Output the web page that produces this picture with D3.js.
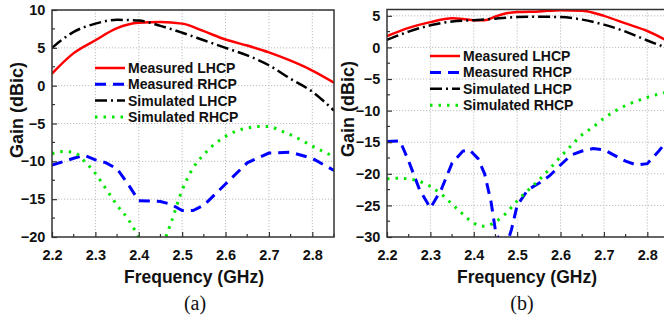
<!DOCTYPE html>
<html>
<head>
<meta charset="utf-8">
<script src="https://cdn.jsdelivr.net/npm/d3@7"></script>
<style>
  body { margin: 0; background: #fff; }
  svg { display: block; }
</style>
</head>
<body>
<div id="chart"></div>
<script>
// ---- data ----
// panel (a)
const freqLhcpA = [2.2, 2.25, 2.3, 2.35, 2.4, 2.45, 2.5, 2.55, 2.6, 2.65, 2.7, 2.75, 2.8, 2.85];
const measLhcpA = [1.6, 4.3, 6.0, 7.6, 8.3, 8.4, 8.2, 7.2, 6.1, 5.3, 4.4, 3.3, 2.0, 0.4];
const simLhcpA  = [5.0, 7.1, 8.2, 8.7, 8.6, 7.9, 7.0, 6.0, 5.0, 4.0, 2.7, 0.9, -0.8, -3.3];

const freqMeasRhcpA = [2.2, 2.25, 2.275, 2.3, 2.325, 2.35, 2.375, 2.4, 2.45, 2.475, 2.5, 2.525, 2.55, 2.6, 2.65, 2.7, 2.75, 2.8, 2.85];
const measRhcpA     = [-10.5, -9.6, -9.2, -9.8, -10.2, -11.0, -13.0, -15.2, -15.3, -15.7, -16.5, -16.5, -15.8, -13.0, -10.2, -8.9, -8.8, -9.6, -11.2];

const freqSimRhcpA = [2.2, 2.225, 2.25, 2.275, 2.3, 2.325, 2.35, 2.375, 2.4, 2.425, 2.45, 2.475, 2.5, 2.525, 2.55, 2.575, 2.6, 2.625, 2.65, 2.675, 2.7, 2.725, 2.75, 2.775, 2.8, 2.825, 2.85];
const simRhcpA     = [-9.0, -8.7, -8.8, -10.0, -11.6, -13.7, -15.8, -17.6, -20.0, -22.5, -21.5, -18.0, -13.8, -10.9, -9.1, -7.7, -6.7, -6.0, -5.6, -5.4, -5.4, -5.9, -6.5, -7.2, -8.0, -8.7, -9.4];

// panel (b)
const freqMeasLhcpB = [2.2, 2.25, 2.3, 2.35, 2.375, 2.4, 2.425, 2.45, 2.475, 2.5, 2.55, 2.6, 2.65, 2.675, 2.7, 2.75, 2.8, 2.85];
const measLhcpB     = [1.8, 3.1, 4.0, 4.6, 4.5, 4.3, 4.3, 4.9, 5.4, 5.6, 5.7, 5.9, 5.8, 5.5, 5.0, 3.8, 2.6, 0.9];

const freqSimLhcpB = [2.2, 2.25, 2.3, 2.35, 2.4, 2.45, 2.5, 2.55, 2.6, 2.65, 2.7, 2.75, 2.8, 2.85];
const simLhcpB     = [1.2, 2.5, 3.5, 4.1, 4.3, 4.55, 4.8, 4.85, 4.8, 4.4, 3.6, 2.5, 1.1, -0.2];

const freqMeasRhcpB = [2.2, 2.23, 2.25, 2.275, 2.3, 2.325, 2.35, 2.375, 2.39, 2.41, 2.425, 2.44, 2.45, 2.47, 2.487, 2.5, 2.525, 2.55, 2.575, 2.6, 2.625, 2.65, 2.675, 2.7, 2.75, 2.775, 2.8, 2.825, 2.85];
const measRhcpB     = [-14.9, -14.8, -18.0, -22.5, -25.4, -22.5, -18.3, -16.4, -16.2, -17.6, -20.0, -24.5, -29.0, -32.5, -28.8, -25.0, -22.5, -21.5, -20.3, -18.6, -17.0, -16.4, -16.0, -16.2, -18.0, -18.6, -18.4, -16.5, -14.5];

const freqSimRhcpB = [2.2, 2.225, 2.25, 2.275, 2.3, 2.325, 2.35, 2.375, 2.4, 2.425, 2.45, 2.475, 2.5, 2.525, 2.55, 2.575, 2.6, 2.625, 2.65, 2.675, 2.7, 2.725, 2.75, 2.775, 2.8, 2.825, 2.85];
const simRhcpB     = [-20.8, -20.7, -20.8, -21.2, -22.0, -23.2, -24.8, -26.4, -27.8, -28.3, -27.6, -26.2, -24.3, -22.6, -21.0, -19.2, -17.3, -15.5, -13.8, -12.6, -11.2, -10.1, -9.2, -8.5, -7.9, -7.4, -7.0];

// ticks and labels
const xTicks  = [2.2, 2.3, 2.4, 2.5, 2.6, 2.7, 2.8];
const yTicksA = [-20, -15, -10, -5, 0, 5, 10];
const yTicksB = [-30, -25, -20, -15, -10, -5, 0, 5];
const legendNames = ["Measured LHCP", "Measured RHCP", "Simulated LHCP", "Simulated RHCP"];

// line styles for the four series
let styles = [
    {color: "#ff0000", width: 2.5, dash: null},
    {color: "#0000ff", width: 3, dash: "11,7"},
    {color: "#000000", width: 2.5, dash: "12,4,2,4"},
    {color: "#00e600", width: 3, dash: "2.5,6"}
];

let svgWidth = 664, svgHeight = 320;
let svg = d3.select("#chart").append("svg")
    .attr("width", svgWidth)
    .attr("height", svgHeight);

let fontSans = "'Liberation Sans', Arial, sans-serif";

function drawPanel(p) {
    let xScale = d3.scaleLinear().domain([2.2, 2.85]).range([p.left, p.right]);
    let yScale = d3.scaleLinear().domain(p.yDomain).range([p.bottom, p.top]);
    let g = svg.append("g");

    // clip for curves
    g.append("clipPath").attr("id", p.id + "-clip")
        .append("rect")
        .attr("x", p.left).attr("y", p.top)
        .attr("width", p.right - p.left).attr("height", p.bottom - p.top);

    // dotted grid
    g.append("g").selectAll("line").data(xTicks.slice(1)).enter().append("line")
        .attr("x1", d => xScale(d)).attr("x2", d => xScale(d))
        .attr("y1", p.top).attr("y2", p.bottom)
        .attr("stroke", "#bdbdbd").attr("stroke-width", 1).attr("stroke-dasharray", "1.2,1.8");
    g.append("g").selectAll("line").data(p.yTicks.slice(1)).enter().append("line")
        .attr("x1", p.left).attr("x2", p.right)
        .attr("y1", d => yScale(d)).attr("y2", d => yScale(d))
        .attr("stroke", "#bdbdbd").attr("stroke-width", 1).attr("stroke-dasharray", "1.2,1.8");

    // curves
    let curves = g.append("g").attr("clip-path", `url(#${p.id}-clip)`);
    p.series.forEach((s, i) => {
        let line = d3.line()
            .x(d => xScale(d[0]))
            .y(d => yScale(d[1]))
            .curve(s.smooth ? d3.curveMonotoneX : d3.curveLinear);
        let pts = s.f.map((f, k) => [f, s.v[k]]);
        curves.append("path")
            .attr("d", line(pts))
            .attr("fill", "none")
            .attr("stroke", styles[i].color)
            .attr("stroke-width", styles[i].width)
            .attr("stroke-dasharray", styles[i].dash);
    });

    // axes: ticks pointing inward
    let xAxis = d3.axisBottom(xScale).tickValues(xTicks).tickSize(-5).tickFormat(d3.format(".1f"));
    let yAxis = d3.axisLeft(yScale).tickValues(p.yTicks).tickSize(-5).tickFormat(d3.format("d"));
    let minorX = d3.range(2.25, 2.86, 0.1);
    let minorY = p.yTicks.slice(0, -1).map(v => v + 2.5);

    let xa = g.append("g").attr("transform", `translate(0,${p.bottom})`).call(xAxis);
    xa.selectAll("text").attr("dy", "1.35em");
    let ya = g.append("g").attr("transform", `translate(${p.left},0)`).call(yAxis);
    ya.selectAll("text").attr("dx", "-0.25em");
    [xa, ya].forEach(a => {
        a.select(".domain").remove();
        a.selectAll("line").attr("stroke", "#333").attr("stroke-width", 1.2);
        a.selectAll("text")
            .attr("fill", "#111")
            .style("font-family", fontSans)
            .style("font-weight", "bold")
            .style("font-size", "14.5px");
    });
    g.append("g").selectAll("line").data(minorX).enter().append("line")
        .attr("x1", d => xScale(d)).attr("x2", d => xScale(d))
        .attr("y1", p.bottom).attr("y2", p.bottom - 3)
        .attr("stroke", "#333").attr("stroke-width", 1.2);
    g.append("g").selectAll("line").data(minorY).enter().append("line")
        .attr("x1", p.left).attr("x2", p.left + 3)
        .attr("y1", d => yScale(d)).attr("y2", d => yScale(d))
        .attr("stroke", "#333").attr("stroke-width", 1.2);

    // frame
    g.append("rect")
        .attr("x", p.left).attr("y", p.top)
        .attr("width", p.right - p.left).attr("height", p.bottom - p.top)
        .attr("fill", "none").attr("stroke", "#333").attr("stroke-width", 1.5);

    // legend
    let lg = g.append("g");
    legendNames.forEach((name, i) => {
        let ly = p.legY + i * p.legStep;
        lg.append("line")
            .attr("x1", p.legX).attr("x2", p.legX + 30)
            .attr("y1", ly).attr("y2", ly)
            .attr("stroke", styles[i].color)
            .attr("stroke-width", styles[i].width)
            .attr("stroke-dasharray", styles[i].dash);
        lg.append("text")
            .attr("x", p.legX + 33).attr("y", ly)
            .attr("dy", "0.36em")
            .attr("fill", "#111")
            .style("font-family", fontSans)
            .style("font-weight", "bold")
            .style("font-size", "14px")
            .text(name);
    });

    // axis titles
    g.append("text")
        .attr("transform", `translate(${p.yLabelX},${p.yLabelY}) rotate(-90)`)
        .attr("text-anchor", "middle").attr("dy", "0.36em")
        .attr("fill", "#111")
        .style("font-family", fontSans).style("font-weight", "bold").style("font-size", "18px")
        .text("Gain (dBic)");
    g.append("text")
        .attr("x", p.titleX).attr("y", 277)
        .attr("text-anchor", "middle").attr("dy", "0.36em")
        .attr("fill", "#111")
        .style("font-family", fontSans).style("font-weight", "bold").style("font-size", "17.5px")
        .text("Frequency (GHz)");
    g.append("text")
        .attr("x", p.tagX).attr("y", 303)
        .attr("text-anchor", "middle").attr("dy", "0.36em")
        .attr("fill", "#111")
        .style("font-family", "'Liberation Serif', 'Times New Roman', serif").style("font-size", "20px")
        .text(p.tag);
}

drawPanel({
    id: "pa", left: 52, right: 334, top: 10, bottom: 237,
    yDomain: [-20, 10], yTicks: yTicksA,
    series: [
        {f: freqLhcpA, v: measLhcpA, smooth: true},
        {f: freqMeasRhcpA, v: measRhcpA, smooth: false},
        {f: freqLhcpA, v: simLhcpA, smooth: true},
        {f: freqSimRhcpA, v: simRhcpA, smooth: true}
    ],
    legX: 95, legY: 68, legStep: 16.3,
    yLabelX: 17, yLabelY: 110, titleX: 194, tagX: 195, tag: "(a)"
});

drawPanel({
    id: "pb", left: 387, right: 669, top: 9.5, bottom: 237,
    yDomain: [-30, 6], yTicks: yTicksB,
    series: [
        {f: freqMeasLhcpB, v: measLhcpB, smooth: true},
        {f: freqMeasRhcpB, v: measRhcpB, smooth: false},
        {f: freqSimLhcpB, v: simLhcpB, smooth: true},
        {f: freqSimRhcpB, v: simRhcpB, smooth: true}
    ],
    legX: 430, legY: 56, legStep: 16.4,
    yLabelX: 348, yLabelY: 109, titleX: 527, tagX: 522, tag: "(b)"
});
</script>
</body>
</html>
